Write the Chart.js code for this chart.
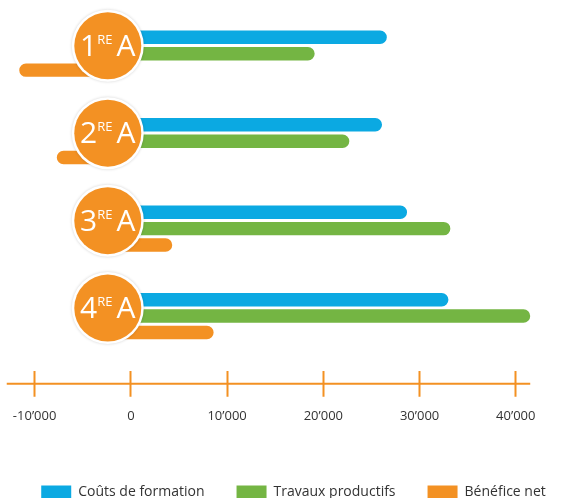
<!DOCTYPE html>
<html>
<head>
<meta charset="utf-8">
<script src="https://cdn.jsdelivr.net/npm/chart.js@4.4.0/dist/chart.umd.min.js"></script>
<style>
    body { margin: 0; background: #fff; }
    canvas { display: block; }
</style>
</head>
<body>
<canvas id="classChart" width="587" height="498"></canvas>
<script>
const classes = ['1RE A', '2RE A', '3RE A', '4RE A'];
const coutsFormation = [26600, 26100, 28700, 33000];
const travauxProductifs = [19100, 22700, 33200, 41500];
const beneficeNet = [-11600, -7700, 4300, 8600];
const tickValues = [-10000, 0, 10000, 20000, 30000, 40000];

const blue = '#0BA9E2';
const green = '#74B543';
const orange = '#F39123';
// bars grow out of the circle centre, which sits a little left of zero
const barBase = -2400;

function formatNumber(v) {
    let s = Math.abs(v).toString().replace(/\B(?=(\d{3})+(?!\d))/g, '\u2019');
    return (v < 0 ? '-' : '') + s;
}

// orange circles with the class name, drawn over the start of the bars
const badges = {
    id: 'badges',
    afterDatasetsDraw(chart) {
        const c = chart.ctx;
        const xs = chart.scales.x;
        const ys = chart.scales.y;
        classes.forEach(function(label, i) {
            const cx = xs.getPixelForValue(barBase);
            const cy = ys.getPixelForValue(i) - 8;
            c.save();
            c.shadowColor = 'rgba(0,0,0,0.18)';
            c.shadowBlur = 3;
            c.beginPath();
            c.arc(cx, cy, 36, 0, Math.PI * 2);
            c.fillStyle = '#fff';
            c.fill();
            c.shadowColor = 'transparent';
            c.beginPath();
            c.arc(cx, cy, 33.5, 0, Math.PI * 2);
            c.fillStyle = orange;
            c.fill();

            const m = label.match(/^(\d+)(\S+)\s+(.+)$/);
            const big = '30px "Open Sans"';
            const small = '13px "Open Sans"';
            c.font = big;
            const w1 = c.measureText(m[1]).width;
            const w3 = c.measureText(m[3]).width;
            c.font = small;
            const w2 = c.measureText(m[2]).width;
            let x = cx - (w1 + w2 + 4 + w3) / 2;
            c.fillStyle = '#fff';
            c.textBaseline = 'alphabetic';
            c.textAlign = 'left';
            c.font = big;
            c.fillText(m[1], x, cy + 10);
            x += w1;
            c.font = small;
            c.fillText(m[2], x, cy - 2);
            x += w2 + 4;
            c.font = big;
            c.fillText(m[3], x, cy + 10);
            c.restore();
        });
    },
    afterDraw(chart) {
        const c = chart.ctx;
        const xs = chart.scales.x;
        const y = chart.chartArea.bottom + 24;
        c.save();
        c.strokeStyle = orange;
        c.lineWidth = 2;
        c.beginPath();
        c.moveTo(xs.getPixelForValue(-12900), y);
        c.lineTo(xs.getPixelForValue(41500), y);
        c.stroke();
        c.restore();
    }
};

Chart.defaults.font.family = '"Open Sans", sans-serif';

const ctx = document.getElementById('classChart').getContext('2d');
const classChart = new Chart(ctx, {
    type: 'bar',
    data: {
        labels: classes,
        datasets: [{
                label: 'Coûts de formation',
                data: coutsFormation,
                backgroundColor: blue
            },
            {
                label: 'Travaux productifs',
                data: travauxProductifs,
                backgroundColor: green
            },
            {
                label: 'Bénéfice net',
                data: beneficeNet,
                backgroundColor: orange
            }
        ]
    },
    options: {
        indexAxis: 'y',
        responsive: false,
        animation: false,
        layout: {
            padding: { top: 10, left: 0, right: 0, bottom: -11 }
        },
        datasets: {
            bar: {
                base: barBase,
                categoryPercentage: 0.563,
                barPercentage: 0.82,
                borderRadius: 7,
                borderSkipped: false
            }
        },
        scales: {
            x: {
                min: -13600,
                max: 47400,
                afterBuildTicks: function(scale) {
                    scale.ticks = tickValues.map(v => ({ value: v }));
                },
                afterFit: function(scale) {
                    scale.height += 16.6;
                },
                border: { display: false },
                grid: {
                    drawOnChartArea: false,
                    drawTicks: true,
                    tickLength: 37,
                    tickWidth: 2,
                    tickColor: orange,
                    tickBorderDash: [0, 11, 26, 60]
                },
                ticks: {
                    padding: 12,
                    color: '#333',
                    font: { size: 13 },
                    maxRotation: 0,
                    autoSkip: false,
                    callback: function(value) {
                        return formatNumber(value);
                    }
                }
            },
            y: {
                display: false
            }
        },
        plugins: {
            legend: {
                position: 'bottom',
                labels: {
                    boxWidth: 30,
                    boxHeight: 13,
                    padding: 32,
                    color: '#333',
                    font: { size: 14 }
                }
            },
            tooltip: { enabled: false }
        }
    },
    plugins: [badges]
});
</script>
</body>
</html>
